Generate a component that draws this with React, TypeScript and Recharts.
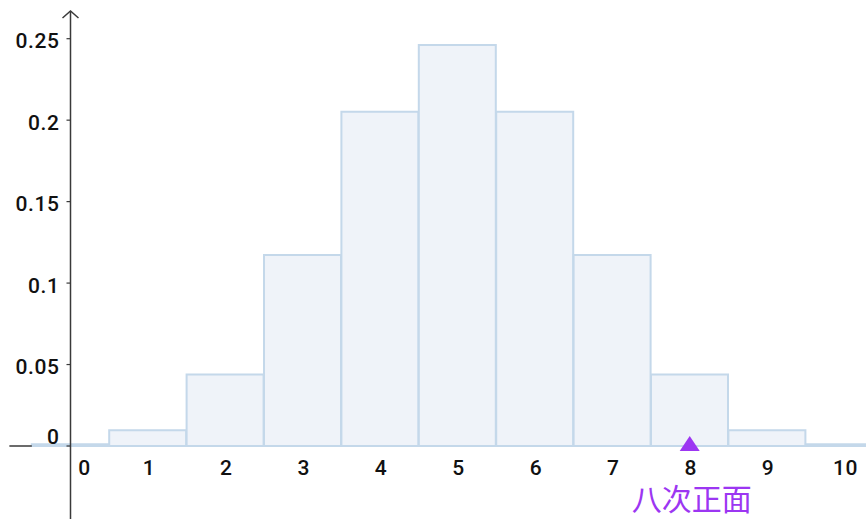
// Binomial distribution (10 coin flips) histogram with a marked outcome.
import { ComposedChart, Bar, XAxis, YAxis, ReferenceLine, ReferenceDot } from "recharts";

const OUTCOMES = [0, 1, 2, 3, 4, 5, 6, 7, 8, 9, 10];
const PROBS = [0.001, 0.0097, 0.0439, 0.1172, 0.2051, 0.2461, 0.2051, 0.1172, 0.0439, 0.0097, 0.001];
const Y_TICKS = [0, 0.05, 0.1, 0.15, 0.2, 0.25];
const Y_LABELS = ["0", "0.05", "0.1", "0.15", "0.2", "0.25"];
const MARKED_OUTCOME = 8;
const MARKED_LABEL = "八次正面";

// axis extents in data units (axes run past the plot area)
const Y_TOP = 0.267;
const Y_BOTTOM = -0.045;
const X_LEFT = -0.79;
const X_BAR_EDGE = -0.5; // bars hide the rest of the x axis

const W = 866;
const H = 519;
const FONT = "Roboto, 'Liberation Sans', Arial, sans-serif";
const AXIS_COLOR = "#3a3a3a";
const PURPLE = "#9c36f2";

const data = OUTCOMES.map((k, i) => ({ k, p: PROBS[i] }));

function YTick({ x, y, payload }: any) {
  const i = Y_TICKS.indexOf(payload.value);
  const dy = payload.value === 0 ? -9 : 2.5;
  return (
    <text x={x} y={y + dy} textAnchor="end" dominantBaseline="central" fontSize={21} fontWeight={500}
      letterSpacing={0.6} fill="#111" fontFamily={FONT}>
      {Y_LABELS[i]}
    </text>
  );
}

function XTick({ x, y, payload }: any) {
  const dx = payload.value === 0 ? 14 : 1;
  return (
    <text x={x + dx} y={y + 13.5} textAnchor="middle" dominantBaseline="central" fontSize={21} fontWeight={500}
      letterSpacing={0.6} fill="#111" fontFamily={FONT}>
      {payload.value}
    </text>
  );
}

function Arrow({ cx, cy }: any) {
  return (
    <path d={`M${cx - 8},${cy + 7} L${cx},${cy} L${cx + 8},${cy + 7}`} fill="none" stroke={AXIS_COLOR} strokeWidth={1.5} />
  );
}

function Marker({ cx, cy }: any) {
  return (
    <g>
      <path d={`M${cx},${cy - 10} L${cx + 10},${cy + 5} L${cx - 10},${cy + 5} Z`} fill={PURPLE} />
      <text x={cx + 2} y={cy + 51} textAnchor="middle" dominantBaseline="central" fontSize={30} fill={PURPLE}
        fontFamily="'Noto Sans CJK SC', sans-serif">
        {MARKED_LABEL}
      </text>
    </g>
  );
}

export default function App() {
  return (
    <div style={{ position: "absolute", left: 0, top: 0, width: W, height: H, background: "#fff", overflow: "hidden" }}>
      <ComposedChart
        width={W}
        height={H}
        data={data}
        barCategoryGap={0}
        barGap={0}
        margin={{ top: 11, right: 21.5, bottom: 43, left: 0 }}
      >
        <XAxis
          dataKey="k"
          type="number"
          domain={[0, 10]}
          ticks={OUTCOMES}
          height={30}
          axisLine={false}
          tickLine={false}
          tick={<XTick />}
          interval={0}
        />
        <YAxis
          type="number"
          domain={[0, Y_TOP]}
          ticks={Y_TICKS}
          width={70.5}
          axisLine={false}
          tickLine={{ stroke: AXIS_COLOR, strokeWidth: 1.2 }}
          tickSize={4}
          tickMargin={7}
          tick={<YTick />}
          interval={0}
        />
        <ReferenceLine
          segment={[{ x: X_LEFT, y: 0 }, { x: X_BAR_EDGE, y: 0 }]}
          stroke={AXIS_COLOR}
          strokeWidth={1.5}
          ifOverflow="visible"
        />
        <Bar dataKey="p" fill="#eff3f9" stroke="#c4d8ea" strokeWidth={2} isAnimationActive={false} />
        <ReferenceLine
          segment={[{ x: 0, y: Y_TOP }, { x: 0, y: Y_BOTTOM }]}
          stroke={AXIS_COLOR}
          strokeWidth={1.5}
          ifOverflow="visible"
        />
        <ReferenceDot x={0} y={Y_TOP} ifOverflow="visible" shape={<Arrow />} />
        <ReferenceDot x={MARKED_OUTCOME} y={0} ifOverflow="visible" shape={<Marker />} />
      </ComposedChart>
    </div>
  );
}
